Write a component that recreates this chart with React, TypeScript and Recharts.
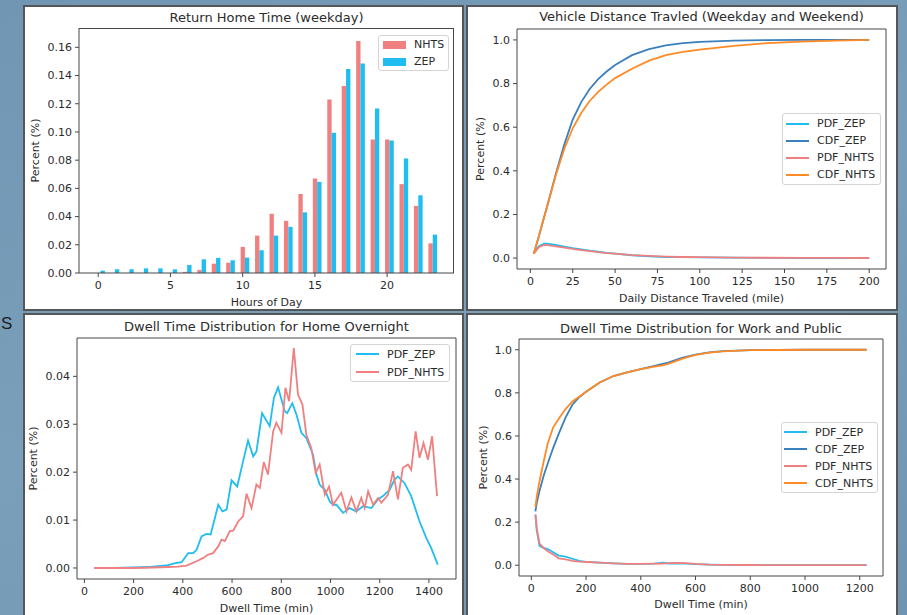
import React from 'react';
import { ComposedChart, Bar, LineChart, Line, XAxis, YAxis, ReferenceArea, Legend } from 'recharts';

// ---- Return Home Time (weekday) ----
const hours = [0, 1, 2, 3, 4, 5, 6, 7, 8, 9, 10, 11, 12, 13, 14, 15, 16, 17, 18, 19, 20, 21, 22, 23];
const nhtsReturn = [0, 0, 0, 0, 0, 0, 0.0008, 0.0022, 0.0066, 0.0073, 0.0185, 0.0265, 0.042, 0.037, 0.056, 0.067, 0.123, 0.1325, 0.1645, 0.0947, 0.0947, 0.063, 0.0476, 0.021];
const zepReturn = [0.0017, 0.0026, 0.0026, 0.0033, 0.0033, 0.0026, 0.0057, 0.0097, 0.0107, 0.009, 0.0109, 0.0161, 0.0265, 0.0327, 0.043, 0.0646, 0.0994, 0.1446, 0.1486, 0.1166, 0.094, 0.0812, 0.0551, 0.0272];
const returnNames = ['NHTS', 'ZEP'];

// ---- Vehicle Distance Travled ----
const distMiles = [2, 5, 8, 10, 15, 20, 25, 30, 35, 40, 45, 50, 60, 70, 80, 90, 100, 120, 140, 160, 180, 200];
const distPdfZep = [0.022, 0.055, 0.066, 0.066, 0.06, 0.053, 0.046, 0.04, 0.034, 0.029, 0.024, 0.02, 0.013, 0.008, 0.005, 0.004, 0.003, 0.002, 0.001, 0.0005, 0.0003, 0.0002];
const distCdfZep = [0.02, 0.1, 0.185, 0.24, 0.385, 0.52, 0.635, 0.715, 0.775, 0.82, 0.855, 0.885, 0.93, 0.958, 0.975, 0.985, 0.991, 0.997, 0.999, 1.0, 1.0, 1.0];
const distPdfNhts = [0.02, 0.05, 0.06, 0.059, 0.054, 0.048, 0.042, 0.037, 0.032, 0.027, 0.023, 0.02, 0.014, 0.01, 0.007, 0.005, 0.004, 0.0025, 0.0015, 0.001, 0.0007, 0.0005];
const distCdfNhts = [0.02, 0.1, 0.185, 0.24, 0.38, 0.5, 0.595, 0.665, 0.72, 0.762, 0.795, 0.825, 0.868, 0.905, 0.93, 0.945, 0.955, 0.973, 0.985, 0.992, 0.997, 1.0];

// ---- Dwell Time for Home Overnight ----
const homeZepMin = [40, 120, 200, 260, 300, 340, 370, 395, 422, 442, 456, 476, 496, 513, 544, 561, 578, 598, 621, 645, 665, 686, 699, 722, 753, 770, 787, 814, 824, 845, 862, 882, 902, 929, 943, 956, 977, 997, 1010, 1024, 1051, 1078, 1105, 1132, 1166, 1193, 1213, 1240, 1260, 1274, 1301, 1328, 1362, 1389, 1409, 1436];
const homeZep = [0, 0, 0.0001, 0.0002, 0.0004, 0.0006, 0.001, 0.0012, 0.0031, 0.0031, 0.0038, 0.0066, 0.0071, 0.007, 0.0132, 0.0118, 0.0122, 0.0183, 0.017, 0.0223, 0.0266, 0.0233, 0.0243, 0.0323, 0.0296, 0.0355, 0.0377, 0.0327, 0.0323, 0.0344, 0.032, 0.0282, 0.0271, 0.0237, 0.0195, 0.0174, 0.0163, 0.0139, 0.0132, 0.0132, 0.0115, 0.0125, 0.0118, 0.0129, 0.0125, 0.0143, 0.015, 0.0163, 0.0184, 0.0191, 0.0177, 0.015, 0.0097, 0.0063, 0.0042, 0.0007];
const homeNhtsMin = [40, 100, 200, 280, 340, 380, 415, 456, 483, 503, 523, 544, 557, 571, 591, 605, 625, 645, 659, 679, 699, 713, 729, 746, 767, 780, 801, 817, 832, 851, 868, 886, 902, 922, 940, 956, 977, 994, 1010, 1044, 1065, 1085, 1105, 1125, 1139, 1153, 1173, 1193, 1207, 1234, 1254, 1274, 1294, 1315, 1328, 1346, 1362, 1378, 1396, 1413, 1433];
const homeNhts = [0, 0, 0, 0.0001, 0.0002, 0.0003, 0.0005, 0.0014, 0.0021, 0.0028, 0.0031, 0.0045, 0.0059, 0.0056, 0.0077, 0.0078, 0.0097, 0.0108, 0.0155, 0.0125, 0.0174, 0.0167, 0.0221, 0.0195, 0.0285, 0.0303, 0.0282, 0.0376, 0.0348, 0.0459, 0.0362, 0.0341, 0.0278, 0.025, 0.0198, 0.0216, 0.0153, 0.017, 0.0132, 0.0157, 0.0118, 0.0147, 0.0118, 0.0146, 0.0125, 0.016, 0.0132, 0.0146, 0.0136, 0.0153, 0.0202, 0.0143, 0.0209, 0.0216, 0.0205, 0.0285, 0.023, 0.0261, 0.0226, 0.0275, 0.015];

// ---- Dwell Time for Work and Public ----
const workMin = [15, 20, 30, 45, 60, 80, 100, 125, 150, 175, 200, 250, 300, 350, 400, 450, 480, 500, 550, 600, 650, 700, 800, 900, 1000, 1100, 1225];
const workPdfZep = [0.235, 0.16, 0.09, 0.08, 0.075, 0.06, 0.045, 0.04, 0.03, 0.02, 0.016, 0.012, 0.009, 0.006, 0.006, 0.007, 0.012, 0.008, 0.009, 0.005, 0.003, 0.002, 0.001, 0.0005, 0.0003, 0.0002, 0.0001];
const workCdfZep = [0.25, 0.29, 0.345, 0.415, 0.472, 0.545, 0.61, 0.685, 0.745, 0.78, 0.805, 0.848, 0.878, 0.895, 0.91, 0.925, 0.935, 0.94, 0.962, 0.978, 0.988, 0.994, 0.998, 0.999, 1.0, 1.0, 1.0];
const workPdfNhts = [0.235, 0.17, 0.1, 0.08, 0.065, 0.05, 0.032, 0.027, 0.02, 0.017, 0.015, 0.012, 0.009, 0.006, 0.006, 0.007, 0.007, 0.01, 0.011, 0.006, 0.003, 0.002, 0.001, 0.0005, 0.0003, 0.0002, 0.0001];
const workCdfNhts = [0.27, 0.32, 0.39, 0.48, 0.565, 0.64, 0.68, 0.725, 0.76, 0.782, 0.805, 0.848, 0.878, 0.895, 0.91, 0.922, 0.928, 0.935, 0.958, 0.976, 0.987, 0.993, 0.998, 0.999, 1.0, 1.0, 1.0];

const lineNames = ['PDF_ZEP', 'CDF_ZEP', 'PDF_NHTS', 'CDF_NHTS'];
const homeNames = ['PDF_ZEP', 'PDF_NHTS'];

const FONT = '"DejaVu Sans", sans-serif';
const TEXT = '#2b2b2b';
const FRAME = '#474747';
const CORAL = '#f08080';
const SKY = '#1fbdf0';
const CDF_BLUE = '#3b7fbd';
const CDF_ORANGE = '#ff8a26';

const tickStyle = { fill: TEXT, fontSize: 11, fontFamily: FONT };
const labelStyle = { fill: TEXT, fontSize: 11, fontFamily: FONT };

const returnRows = hours.map((h, i) => ({ hour: h, NHTS: nhtsReturn[i], ZEP: zepReturn[i] }));
const distRows = distMiles.map((m, i) => ({
  mile: m,
  PDF_ZEP: distPdfZep[i],
  CDF_ZEP: distCdfZep[i],
  PDF_NHTS: distPdfNhts[i],
  CDF_NHTS: distCdfNhts[i],
}));
const homeZepRows = homeZepMin.map((m, i) => ({ min: m, v: homeZep[i] }));
const homeNhtsRows = homeNhtsMin.map((m, i) => ({ min: m, v: homeNhts[i] }));
const workRows = workMin.map((m, i) => ({
  min: m,
  PDF_ZEP: workPdfZep[i],
  CDF_ZEP: workCdfZep[i],
  PDF_NHTS: workPdfNhts[i],
  CDF_NHTS: workCdfNhts[i],
}));

// legend box in the matplotlib look
const LegendBox = ({ payload, order, kind, rowH, padY, iconLeft, width }: any) => {
  const items = [...(payload || [])].sort((a: any, b: any) => order.indexOf(a.value) - order.indexOf(b.value));
  return (
    <div
      style={{
        width,
        boxSizing: 'border-box',
        background: 'rgba(255,255,255,0.85)',
        border: '1px solid #d4d4d4',
        borderRadius: 3,
        padding: `${padY}px 0`,
        fontFamily: FONT,
        fontSize: 11,
        color: TEXT,
      }}
    >
      {items.map((p: any) => (
        <div key={p.value} style={{ display: 'flex', alignItems: 'center', height: rowH, paddingLeft: iconLeft }}>
          {kind === 'rect' ? (
            <span style={{ display: 'inline-block', width: 23, height: 8, background: p.color }} />
          ) : (
            <span style={{ display: 'inline-block', width: 23, height: 2, background: p.color }} />
          )}
          <span style={{ marginLeft: 8, whiteSpace: 'nowrap' }}>{p.value}</span>
        </div>
      ))}
    </div>
  );
};

const Title = ({ text, left, width, centerY }: any) => (
  <div
    style={{
      position: 'absolute',
      left,
      width,
      top: centerY - 8,
      height: 16,
      lineHeight: '16px',
      textAlign: 'center',
      fontFamily: FONT,
      fontSize: 13,
      color: TEXT,
      whiteSpace: 'nowrap',
    }}
  >
    {text}
  </div>
);

const panelStyle = (left: number, top: number, width: number, height: number): React.CSSProperties => ({
  position: 'absolute',
  left,
  top,
  width,
  height,
  boxSizing: 'border-box',
  background: '#fff',
  border: '2px solid #565656',
});

const place = (left: number, top: number): React.CSSProperties => ({ position: 'absolute', left, top });

export default function App() {
  return (
    <div
      style={{
        position: 'absolute',
        left: 0,
        top: 0,
        width: 907,
        height: 615,
        overflow: 'hidden',
        background: 'linear-gradient(160deg, #7096b3 0%, #7a9fbb 50%, #6f95b2 100%)',
      }}
    >
      <div style={{ position: 'absolute', left: 1, top: 314, fontFamily: 'Liberation Sans, sans-serif', fontSize: 17, color: '#1d1d1d' }}>
        S
      </div>

      <div style={panelStyle(23, 5, 441, 306)} />
      <div style={panelStyle(466, 5, 432, 306)} />
      <div style={panelStyle(23, 313, 441, 310)} />
      <div style={panelStyle(466, 313, 432, 310)} />

      {/* top left: bars (bars sit on a hidden axis shifted by 0.15 h so that NHTS is centred on the hour) */}
      <Title text="Return Home Time (weekday)" left={79} width={375} centerY={17.5} />
      <div style={place(25, 7)}>
        <ComposedChart width={437} height={302} data={returnRows} margin={{ top: 21, right: 8, left: 0, bottom: 0 }} barGap={0}>
          <XAxis
            type="number"
            dataKey="hour"
            domain={[-1.33, 24.63]}
            allowDataOverflow
            ticks={[0, 5, 10, 15, 20]}
            interval={0}
            height={36}
            axisLine={{ stroke: FRAME }}
            tickLine={{ stroke: FRAME }}
            tickSize={4}
            tickMargin={4}
            tick={tickStyle}
            label={{ value: 'Hours of Day', position: 'insideBottom', offset: 3, ...labelStyle }}
          />
          <XAxis xAxisId="bars" type="number" dataKey="hour" domain={[-1.48, 24.48]} allowDataOverflow hide height={0} />
          <YAxis
            type="number"
            domain={[0, 0.1737]}
            allowDataOverflow
            ticks={[0, 0.02, 0.04, 0.06, 0.08, 0.1, 0.12, 0.14, 0.16]}
            interval={0}
            width={54}
            axisLine={{ stroke: FRAME }}
            tickLine={{ stroke: FRAME }}
            tickSize={4}
            tickMargin={3}
            tick={tickStyle}
            tickFormatter={(v: number) => v.toFixed(2)}
            label={{ value: 'Percent (%)', angle: -90, position: 'insideLeft', offset: 10, ...labelStyle, style: { textAnchor: 'middle' } }}
          />
          <Bar xAxisId="bars" dataKey="NHTS" name="NHTS" fill={CORAL} barSize={4.34} isAnimationActive={false} />
          <Bar xAxisId="bars" dataKey="ZEP" name="ZEP" fill={SKY} barSize={4.34} isAnimationActive={false} />
          <Legend
            layout="vertical"
            align="center"
            verticalAlign="middle"
            wrapperStyle={{ left: 353, top: 28, width: 71 }}
            content={(p: any) => (
              <LegendBox payload={p.payload} order={returnNames} kind="rect" rowH={17} padY={0} iconLeft={4} width={71} />
            )}
          />
        </ComposedChart>
      </div>
      {/* top and right spines of the bar plot */}
      <div
        style={{
          position: 'absolute',
          left: 79,
          top: 28,
          width: 375,
          height: 245,
          boxSizing: 'border-box',
          borderTop: `1px solid ${FRAME}`,
          borderRight: `1px solid ${FRAME}`,
          pointerEvents: 'none',
        }}
      />

      {/* top right: distance */}
      <Title text="Vehicle Distance Travled (Weekday and Weekend)" left={517} width={369} centerY={17.3} />
      <div style={place(468, 7)}>
        <LineChart width={428} height={302} data={distRows} margin={{ top: 22, right: 10, left: 0, bottom: 0 }}>
          <XAxis
            type="number"
            dataKey="mile"
            domain={[-7.9, 209.9]}
            allowDataOverflow
            ticks={[0, 25, 50, 75, 100, 125, 150, 175, 200]}
            interval={0}
            height={40}
            axisLine={false}
            tickLine={{ stroke: FRAME }}
            tickSize={4}
            tickMargin={4}
            tick={tickStyle}
            label={{ value: 'Daily Distance Traveled (mile)', position: 'insideBottom', offset: 7, ...labelStyle }}
          />
          <YAxis
            type="number"
            domain={[-0.05, 1.05]}
            allowDataOverflow
            ticks={[0, 0.2, 0.4, 0.6, 0.8, 1.0]}
            interval={0}
            width={49}
            axisLine={false}
            tickLine={{ stroke: FRAME }}
            tickSize={4}
            tickMargin={3}
            tick={tickStyle}
            tickFormatter={(v: number) => v.toFixed(1)}
            label={{ value: 'Percent (%)', angle: -90, position: 'insideLeft', offset: 12, ...labelStyle, style: { textAnchor: 'middle' } }}
          />
          <Line type="linear" dataKey="PDF_ZEP" name="PDF_ZEP" stroke={SKY} strokeWidth={1.8} dot={false} isAnimationActive={false} />
          <Line type="linear" dataKey="CDF_ZEP" name="CDF_ZEP" stroke={CDF_BLUE} strokeWidth={1.8} dot={false} isAnimationActive={false} />
          <Line type="linear" dataKey="PDF_NHTS" name="PDF_NHTS" stroke={CORAL} strokeWidth={1.8} dot={false} isAnimationActive={false} />
          <Line type="linear" dataKey="CDF_NHTS" name="CDF_NHTS" stroke={CDF_ORANGE} strokeWidth={1.8} dot={false} isAnimationActive={false} />
          <ReferenceArea x1={-7.9} x2={209.9} y1={-0.05} y2={1.05} fill="none" stroke={FRAME} ifOverflow="visible" />
          <Legend
            layout="vertical"
            align="center"
            verticalAlign="middle"
            wrapperStyle={{ left: 314, top: 106, width: 99 }}
            content={(p: any) => (
              <LegendBox payload={p.payload} order={lineNames} kind="line" rowH={17} padY={1} iconLeft={3} width={99} />
            )}
          />
        </LineChart>
      </div>

      {/* bottom left: home overnight */}
      <Title text="Dwell Time Distribution for Home Overnight" left={77} width={379} centerY={326.7} />
      <div style={place(25, 315)}>
        <LineChart width={437} height={300} margin={{ top: 23, right: 6, left: 0, bottom: 0 }}>
          <XAxis
            type="number"
            dataKey="min"
            domain={[-30, 1510]}
            allowDataOverflow
            ticks={[0, 200, 400, 600, 800, 1000, 1200, 1400]}
            interval={0}
            height={36}
            axisLine={false}
            tickLine={{ stroke: FRAME }}
            tickSize={4}
            tickMargin={4}
            tick={tickStyle}
            label={{ value: 'Dwell Time (min)', position: 'insideBottom', offset: 2.7, ...labelStyle }}
          />
          <YAxis
            type="number"
            domain={[-0.0023, 0.048]}
            allowDataOverflow
            ticks={[0, 0.01, 0.02, 0.03, 0.04]}
            interval={0}
            width={52}
            axisLine={false}
            tickLine={{ stroke: FRAME }}
            tickSize={4}
            tickMargin={3}
            tick={tickStyle}
            tickFormatter={(v: number) => v.toFixed(2)}
            label={{ value: 'Percent (%)', angle: -90, position: 'insideLeft', offset: 8, ...labelStyle, style: { textAnchor: 'middle' } }}
          />
          <Line data={homeZepRows} type="linear" dataKey="v" name="PDF_ZEP" stroke={SKY} strokeWidth={1.8} dot={false} isAnimationActive={false} />
          <Line data={homeNhtsRows} type="linear" dataKey="v" name="PDF_NHTS" stroke={CORAL} strokeWidth={1.8} dot={false} isAnimationActive={false} />
          <ReferenceArea x1={-30} x2={1510} y1={-0.0023} y2={0.048} fill="none" stroke={FRAME} ifOverflow="visible" />
          <Legend
            layout="vertical"
            align="center"
            verticalAlign="middle"
            wrapperStyle={{ left: 325, top: 29, width: 100 }}
            content={(p: any) => (
              <LegendBox payload={p.payload} order={homeNames} kind="line" rowH={18} padY={0} iconLeft={5} width={100} />
            )}
          />
        </LineChart>
      </div>

      {/* bottom right: work and public */}
      <Title text="Dwell Time Distribution for Work and Public" left={519} width={364} centerY={329} />
      <div style={place(468, 315)}>
        <LineChart width={428} height={300} data={workRows} margin={{ top: 24, right: 13, left: 0, bottom: 0 }}>
          <XAxis
            type="number"
            dataKey="min"
            domain={[-45, 1285]}
            allowDataOverflow
            ticks={[0, 200, 400, 600, 800, 1000, 1200]}
            interval={0}
            height={39}
            axisLine={false}
            tickLine={{ stroke: FRAME }}
            tickSize={4}
            tickMargin={4}
            tick={tickStyle}
            label={{ value: 'Dwell Time (min)', position: 'insideBottom', offset: 7, ...labelStyle }}
          />
          <YAxis
            type="number"
            domain={[-0.05, 1.05]}
            allowDataOverflow
            ticks={[0, 0.2, 0.4, 0.6, 0.8, 1.0]}
            interval={0}
            width={51}
            axisLine={false}
            tickLine={{ stroke: FRAME }}
            tickSize={4}
            tickMargin={3}
            tick={tickStyle}
            tickFormatter={(v: number) => v.toFixed(1)}
            label={{ value: 'Percent (%)', angle: -90, position: 'insideLeft', offset: 15, ...labelStyle, style: { textAnchor: 'middle' } }}
          />
          <Line type="linear" dataKey="PDF_ZEP" name="PDF_ZEP" stroke={SKY} strokeWidth={1.8} dot={false} isAnimationActive={false} />
          <Line type="linear" dataKey="CDF_ZEP" name="CDF_ZEP" stroke={CDF_BLUE} strokeWidth={1.8} dot={false} isAnimationActive={false} />
          <Line type="linear" dataKey="PDF_NHTS" name="PDF_NHTS" stroke={CORAL} strokeWidth={1.8} dot={false} isAnimationActive={false} />
          <Line type="linear" dataKey="CDF_NHTS" name="CDF_NHTS" stroke={CDF_ORANGE} strokeWidth={1.8} dot={false} isAnimationActive={false} />
          <ReferenceArea x1={-45} x2={1285} y1={-0.05} y2={1.05} fill="none" stroke={FRAME} ifOverflow="visible" />
          <Legend
            layout="vertical"
            align="center"
            verticalAlign="middle"
            wrapperStyle={{ left: 313, top: 107, width: 97 }}
            content={(p: any) => (
              <LegendBox payload={p.payload} order={lineNames} kind="line" rowH={17} padY={0.5} iconLeft={2} width={97} />
            )}
          />
        </LineChart>
      </div>
    </div>
  );
}
